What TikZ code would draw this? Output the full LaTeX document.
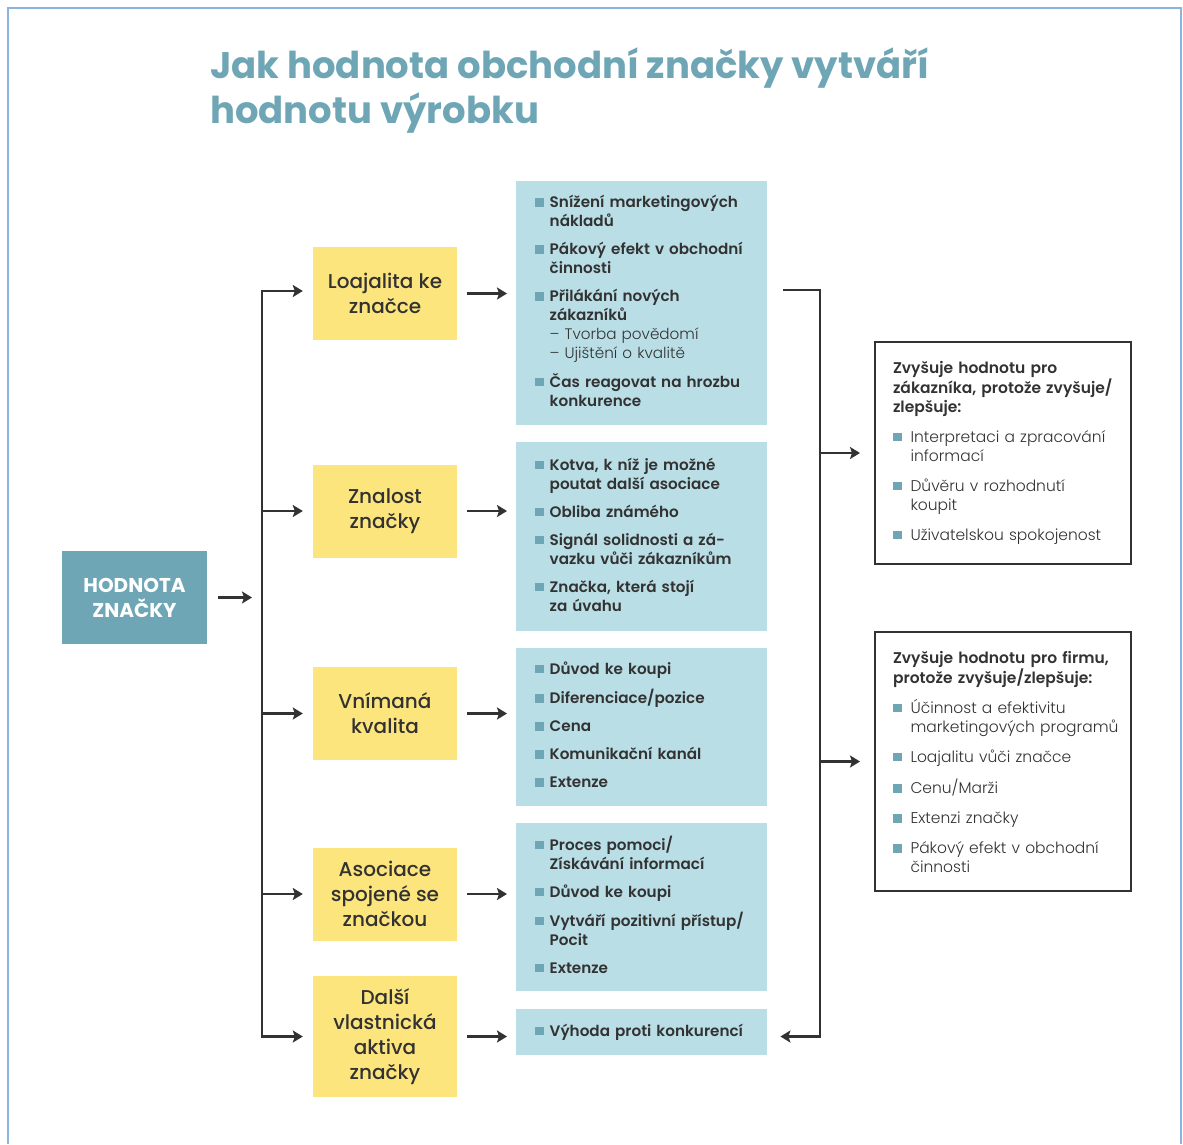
\documentclass[tikz,border=0pt]{standalone}
\usepackage{fontspec}
\setmainfont{Poppins}
\newfontfamily\medfont{Poppins Medium}
\newfontfamily\lightfont{Poppins Light}
\newfontfamily\semifont{Poppins SemiBold}
\usetikzlibrary{arrows.meta}

\definecolor{brandteal}{RGB}{110,166,181}
\definecolor{ylw}{RGB}{253,229,126}
\definecolor{lblue}{RGB}{186,222,230}
\definecolor{ink}{RGB}{50,50,50}
\definecolor{framec}{RGB}{135,180,225}

\newcommand{\sq}{\textcolor{brandteal}{\rule[1pt]{8.5pt}{8.5pt}}}
\newcommand{\hd}[1]{\multicolumn{2}{@{}l@{}}{\semifont #1}}

\tikzset{
  arr/.style={draw=ink, line width=2.5pt, -{Stealth[length=10pt,width=12pt,inset=2pt]}},
  ybox/.style={fill=ylw, minimum width=144pt, minimum height=93pt, inner sep=0pt,
    align=center, text=ink, font=\medfont\fontsize{20}{25}\selectfont},
  bbox/.style={fill=lblue, anchor=north west, text width=213pt, inner xsep=19pt,
    inner ysep=0pt, align=left, text=ink, font=\semifont\fontsize{15.2}{19}\selectfont},
  wbox/.style={draw=ink, line width=2pt, anchor=north west, text width=220pt,
    inner xsep=18pt, inner ysep=0pt, align=left, text height=31pt, text=ink,
    font=\lightfont\fontsize{15.5}{19}\selectfont}
}

\begin{document}
\begin{tikzpicture}[x=1pt,y=-1pt]
  \useasboundingbox (0,0) rectangle (1183,1144);
  \draw[framec, line width=2pt] (8,1144) -- (8,8) -- (1181,8) -- (1181,1144);

  % title
  \node (title) [anchor=base west, inner sep=0pt, text=brandteal,
    font=\bfseries\fontsize{37}{45}\selectfont] at (210,78)
    {\parbox[t]{950pt}{Jak hodnota obchodní značky vytváří\\hodnotu výrobku}};

  % brand value
  \node (hz) [fill=brandteal, minimum width=145pt, minimum height=93pt, inner sep=0pt,
    align=center, text=white, font=\bfseries\fontsize{20}{25}\selectfont]
    at (134.5,597.5) {HODNOTA\\ZNAČKY};

  % yellow boxes
  \node (loa) [ybox] at (385,293.5) {Loajalita ke\\značce};
  \node (zna) [ybox] at (385,511) {Znalost\\značky};
  \node (vni) [ybox] at (385,713.5) {Vnímaná\\kvalita};
  \node (aso) [ybox] at (385,894) {Asociace\\spojené se\\značkou};
  \node (dal) [ybox, minimum height=121pt] at (385,1036.5) {Další\\vlastnická\\aktiva\\značky};

  % blue boxes
  \node (b1) [bbox, minimum height=244pt] at (516,181) {%
    \begin{tabular}{@{}l@{\hspace{6pt}}l@{}}
      \sq & Snížení marketingových\\ & nákladů\\[9pt]
      \sq & Pákový efekt v obchodní\\ & činnosti\\[9pt]
      \sq & Přilákání nových\\ & zákazníků\\
          & {\lightfont – Tvorba povědomí}\\ & {\lightfont – Ujištění o kvalitě}\\[9pt]
      \sq & Čas reagovat na hrozbu\\ & konkurence
    \end{tabular}};
  \node (b2) [bbox, minimum height=189pt] at (516,442) {%
    \begin{tabular}{@{}l@{\hspace{6pt}}l@{}}
      \sq & Kotva, k níž je možné\\ & poutat další asociace\\[9pt]
      \sq & Obliba známého\\[9pt]
      \sq & Signál solidnosti a zá-\\ & vazku vůči zákazníkům\\[9pt]
      \sq & Značka, která stojí\\ & za úvahu
    \end{tabular}};
  \node (b3) [bbox, minimum height=158pt] at (516,648) {%
    \begin{tabular}{@{}l@{\hspace{6pt}}l@{}}
      \sq & Důvod ke koupi\\[9pt]
      \sq & Diferenciace/pozice\\[9pt]
      \sq & Cena\\[9pt]
      \sq & Komunikační kanál\\[9pt]
      \sq & Extenze
    \end{tabular}};
  \node (b4) [bbox, minimum height=168pt] at (516,823) {%
    \begin{tabular}{@{}l@{\hspace{6pt}}l@{}}
      \sq & Proces pomoci/\\ & Získávání informací\\[9pt]
      \sq & Důvod ke koupi\\[9pt]
      \sq & Vytváří pozitivní přístup/\\ & Pocit\\[9pt]
      \sq & Extenze
    \end{tabular}};
  \node (b5) [bbox, minimum height=46pt] at (516,1009) {%
    \begin{tabular}{@{}l@{\hspace{6pt}}l@{}}
      \sq & Výhoda proti konkurencí
    \end{tabular}};

  % outcome boxes
  \node (za) [wbox, text depth=191pt] at (874,341) {%
    \begin{tabular}[t]{@{}l@{\hspace{9pt}}l@{}}
      \hd{Zvyšuje hodnotu pro}\\ \hd{zákazníka, protože zvyšuje/}\\ \hd{zlepšuje:}\\[11pt]
      \sq & Interpretaci a zpracování\\ & informací\\[11pt]
      \sq & Důvěru v rozhodnutí\\ & koupit\\[11pt]
      \sq & Uživatelskou spokojenost
    \end{tabular}};
  \node (fi) [wbox, text depth=228pt] at (874,631) {%
    \begin{tabular}[t]{@{}l@{\hspace{9pt}}l@{}}
      \hd{Zvyšuje hodnotu pro firmu,}\\ \hd{protože zvyšuje/zlepšuje:}\\[10pt]
      \sq & Účinnost a efektivitu\\ & marketingových programů\\[11pt]
      \sq & Loajalitu vůči značce\\[11pt]
      \sq & Cenu/Marži\\[11pt]
      \sq & Extenzi značky\\[11pt]
      \sq & Pákový efekt v obchodní\\ & činnosti
    \end{tabular}};

  % connectors
  \coordinate (t0) at (262,597.5);
  \coordinate (ttop) at (262,291);
  \coordinate (tbot) at (262,1036.5);
  \coordinate (rtop) at (820,290);
  \coordinate (rbot) at (820,1036.5);

  \draw[arr] ([xshift=11pt]hz.east) -- ([xshift=-10pt]t0);
  \draw[arr] (tbot) -- (ttop) -- ([xshift=-10pt]loa.west |- ttop);
  \draw[arr] (ttop) -- (tbot) -- ([xshift=-10pt]dal.west);
  \foreach \n in {zna,vni,aso}
    \draw[arr] (ttop |- \n.west) -- ([xshift=-10pt]\n.west);
  \foreach \n/\m in {loa/b1,zna/b2,vni/b3,aso/b4,dal/b5}
    \draw[arr] ([xshift=10pt]\n.east) -- ([xshift=-9pt]\n.east -| \m.west);

  \draw[arr] ([xshift=16pt]b1.east |- rtop) -- (rtop) -- (rbot) -- ([xshift=13pt]b5.east |- rbot);
  \draw[arr] (rtop |- za.west) -- ([xshift=-14pt]za.west);
  \draw[arr] (rtop |- fi.west) -- ([xshift=-14pt]fi.west);
\end{tikzpicture}
\end{document}
